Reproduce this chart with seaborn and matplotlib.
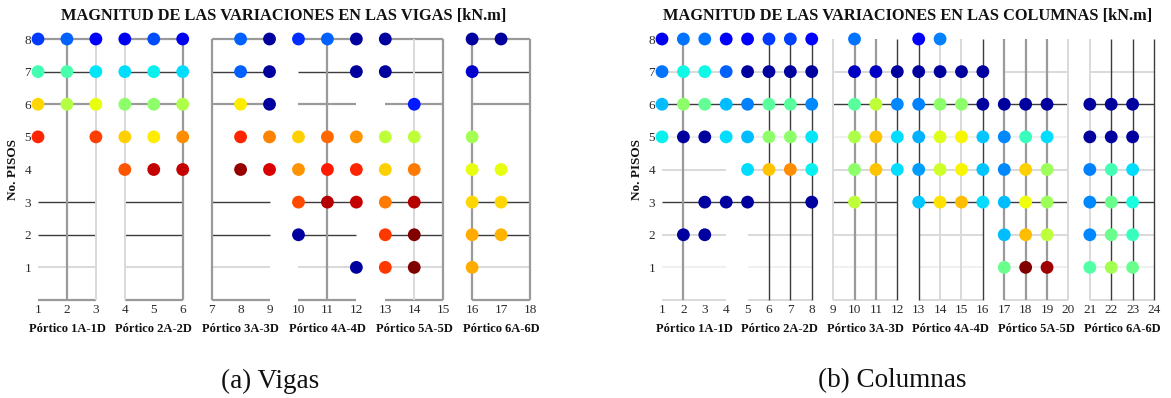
import numpy as np
import pandas as pd
import matplotlib
matplotlib.use("Agg")
import matplotlib.pyplot as plt
import seaborn as sns

# ---- Beam results (Vigas): column position, floor, relative magnitude (0-1) ----
vigas_x = [1, 1, 1, 1,
           2, 2, 2,
           3, 3, 3, 3,
           4, 4, 4, 4, 4,
           5, 5, 5, 5, 5,
           6, 6, 6, 6, 6,
           8, 8, 8, 8, 8,
           9, 9, 9, 9, 9,
           10, 10, 10, 10, 10,
           11, 11, 11, 11,
           12, 12, 12, 12, 12, 12,
           13, 13, 13, 13, 13, 13, 13,
           14, 14, 14, 14, 14, 14,
           16, 16, 16, 16, 16, 16, 16,
           17, 17, 17, 17]
vigas_piso = [8, 7, 6, 5,
              8, 7, 6,
              8, 7, 6, 5,
              8, 7, 6, 5, 4,
              8, 7, 6, 5, 4,
              8, 7, 6, 5, 4,
              8, 7, 6, 5, 4,
              8, 7, 6, 5, 4,
              8, 5, 4, 3, 2,
              8, 5, 4, 3,
              8, 7, 5, 4, 3, 1,
              8, 7, 5, 4, 3, 2, 1,
              6, 5, 4, 3, 2, 1,
              8, 7, 5, 4, 3, 2, 1,
              8, 4, 3, 2]
vigas_mag = [0.18, 0.43, 0.68, 0.87,
             0.22, 0.44, 0.57,
             0.12, 0.35, 0.63, 0.84,
             0.10, 0.34, 0.52, 0.69, 0.82,
             0.20, 0.36, 0.52, 0.66, 0.94,
             0.10, 0.34, 0.56, 0.76, 0.94,
             0.22, 0.22, 0.66, 0.87, 0.98,
             0.03, 0.03, 0.03, 0.77, 0.92,
             0.17, 0.69, 0.75, 0.83, 0.03,
             0.22, 0.80, 0.88, 0.95,
             0.03, 0.03, 0.75, 0.87, 0.94, 0.03,
             0.03, 0.03, 0.58, 0.69, 0.78, 0.85, 0.85,
             0.15, 0.58, 0.78, 0.95, 1.00, 1.00,
             0.03, 0.07, 0.55, 0.63, 0.68, 0.73, 0.73,
             0.03, 0.63, 0.68, 0.72]

# ---- Column results (Columnas) ----
columnas_x = [1, 1, 1, 1,
              2, 2, 2, 2, 2,
              3, 3, 3, 3, 3, 3,
              4, 4, 4, 4, 4,
              5, 5, 5, 5, 5, 5,
              6, 6, 6, 6, 6,
              7, 7, 7, 7, 7,
              8, 8, 8, 8, 8, 8,
              10, 10, 10, 10, 10, 10,
              11, 11, 11, 11,
              12, 12, 12, 12,
              13, 13, 13, 13, 13, 13,
              14, 14, 14, 14, 14, 14,
              15, 15, 15, 15, 15,
              16, 16, 16, 16, 16,
              17, 17, 17, 17, 17, 17,
              18, 18, 18, 18, 18, 18,
              19, 19, 19, 19, 19, 19,
              21, 21, 21, 21, 21, 21,
              22, 22, 22, 22, 22, 22,
              23, 23, 23, 23, 23, 23]
columnas_piso = [8, 7, 6, 5,
                 8, 7, 6, 5, 2,
                 8, 7, 6, 5, 3, 2,
                 8, 7, 6, 5, 3,
                 8, 7, 6, 5, 4, 3,
                 8, 7, 6, 5, 4,
                 8, 7, 6, 5, 4,
                 8, 7, 6, 5, 4, 3,
                 8, 7, 6, 5, 4, 3,
                 7, 6, 5, 4,
                 7, 6, 5, 4,
                 8, 7, 6, 5, 4, 3,
                 8, 7, 6, 5, 4, 3,
                 7, 6, 5, 4, 3,
                 7, 6, 5, 4, 3,
                 6, 5, 4, 3, 2, 1,
                 6, 5, 4, 3, 2, 1,
                 6, 5, 4, 3, 2, 1,
                 6, 5, 4, 3, 2, 1,
                 6, 5, 4, 3, 2, 1,
                 6, 5, 4, 3, 2, 1]
columnas_mag = [0.10, 0.24, 0.31, 0.36,
                0.24, 0.37, 0.52, 0.03, 0.03,
                0.24, 0.37, 0.47, 0.03, 0.03, 0.03,
                0.12, 0.22, 0.31, 0.34, 0.03,
                0.12, 0.03, 0.25, 0.31, 0.34, 0.03,
                0.18, 0.03, 0.46, 0.52, 0.70,
                0.19, 0.03, 0.46, 0.52, 0.76,
                0.12, 0.03, 0.26, 0.35, 0.36, 0.03,
                0.24, 0.06, 0.46, 0.56, 0.52, 0.58,
                0.06, 0.58, 0.70, 0.70,
                0.03, 0.26, 0.34, 0.34,
                0.12, 0.03, 0.25, 0.30, 0.28, 0.32,
                0.25, 0.03, 0.52, 0.62, 0.60, 0.67,
                0.03, 0.52, 0.65, 0.65, 0.71,
                0.03, 0.03, 0.32, 0.32, 0.34,
                0.03, 0.26, 0.26, 0.31, 0.31, 0.48,
                0.03, 0.42, 0.69, 0.64, 0.71, 1.00,
                0.03, 0.34, 0.54, 0.54, 0.58, 0.97,
                0.03, 0.03, 0.25, 0.26, 0.26, 0.45,
                0.03, 0.03, 0.43, 0.48, 0.48, 0.55,
                0.03, 0.03, 0.34, 0.38, 0.42, 0.48]

# ---- Axis labels ----
vigas_ticks = list(range(1, 19))
columnas_ticks = list(range(1, 25))
pisos = list(range(1, 9))
porticos = ["Pórtico 1A-1D", "Pórtico 2A-2D", "Pórtico 3A-3D",
            "Pórtico 4A-4D", "Pórtico 5A-5D", "Pórtico 6A-6D"]
titulo_vigas = "MAGNITUD DE LAS VARIACIONES EN LAS VIGAS [kN.m]"
titulo_columnas = "MAGNITUD DE LAS VARIACIONES EN LAS COLUMNAS [kN.m]"
subtitulos = ["(a) Vigas", "(b) Columnas"]

# ---- Frame outline drawn behind the markers ----
TONES = {"dark": ("#3c3c3c", 1.0), "mid": ("#9a9a9a", 1.6),
         "light": ("#d9d9d9", 1.4), "faint": ("#eeeeee", 1.2)}

vigas_groups = [(1, 3), (4, 6), (7, 9), (10, 12), (13, 15), (16, 18)]
vigas_beam_levels = [(8, "mid"), (7, "dark"), (6, "mid"), (3, "dark"),
                     (2, "dark"), (1, "light"), (0, "mid")]
vigas_posts = [(2, "mid"), (3, "light"), (4, "light"), (6, "mid"), (7, "mid"),
               (11, "mid"), (14, "light"), (15, "mid"), (16, "mid"), (18, "mid")]

columnas_groups = [(1, 4), (5, 8), (9, 12), (13, 16), (17, 20), (21, 24)]
columnas_beam_levels = [(7, "light"), (6, "dark"), (5, "faint"), (4, "light"),
                        (3, "dark"), (2, "light"), (1, "faint"), (0, "light")]
columnas_bridges = [(4, 5, 6, "dark"), (4, 5, 3, "dark")]
columnas_posts = [(2, "mid"), (6, "dark"), (7, "dark"), (8, "dark"), (9, "light"),
                  (10, "mid"), (11, "mid"), (12, "dark"), (13, "dark"),
                  (14, "light"), (15, "light"), (16, "dark"), (17, "mid"),
                  (18, "mid"), (19, "mid"), (20, "light"), (21, "light"),
                  (22, "dark"), (23, "dark"), (24, "dark")]

sns.set_theme(style="white")
plt.rcParams["font.family"] = ["Liberation Serif", "DejaVu Serif"]

fig = plt.figure(figsize=(11.71, 3.98), dpi=100)
ax_v = fig.add_axes([38 / 1171, 1 - 300 / 398, 492 / 1171, 261 / 398])
ax_c = fig.add_axes([662 / 1171, 1 - 300 / 398, 492 / 1171, 261 / 398])


def draw_frame(ax, groups, levels, posts, bridges=()):
    for x0, x1 in groups:
        for y, tone in levels:
            c, lw = TONES[tone]
            ax.plot([x0, x1], [y, y], color=c, lw=lw, zorder=1,
                    solid_capstyle="butt", clip_on=False)
    for x0, x1, y, tone in bridges:
        c, lw = TONES[tone]
        ax.plot([x0, x1], [y, y], color=c, lw=lw, zorder=1, clip_on=False)
    for x, tone in posts:
        c, lw = TONES[tone]
        ax.plot([x, x], [0, 8], color=c, lw=lw, zorder=2,
                solid_capstyle="butt", clip_on=False)


def finish(ax, ticks, groups, title, xmax):
    ax.set_xlim(1, xmax)
    ax.set_ylim(0, 8)
    ax.set_xticks(ticks)
    ax.set_xticklabels([str(t) for t in ticks])
    ax.set_yticks(pisos)
    ax.tick_params(axis="both", length=0, labelsize=9.5, colors="#2a2a2a")
    ax.tick_params(axis="x", pad=3)
    ax.tick_params(axis="y", pad=5)
    for s in ax.spines.values():
        s.set_visible(False)
    ax.grid(False)
    ax.set_xlabel("")
    ax.set_ylabel("No. PISOS", fontsize=9.5, fontweight="bold", labelpad=4,
                  color="#111111")
    for (x0, x1), name in zip(groups, porticos):
        ax.annotate(name, xy=((x0 + x1) / 2, 0), xycoords="data",
                    xytext=(0, -21), textcoords="offset points",
                    ha="center", va="center", fontsize=9, fontweight="bold",
                    color="#111111", annotation_clip=False)
    ax.set_title(title, fontsize=11.8, fontweight="bold", color="#111111", pad=14)


draw_frame(ax_v, vigas_groups, vigas_beam_levels, vigas_posts)
draw_frame(ax_c, columnas_groups, columnas_beam_levels, columnas_posts,
           columnas_bridges)

df_v = pd.DataFrame({"x": vigas_x, "piso": vigas_piso, "mag": vigas_mag})
df_c = pd.DataFrame({"x": columnas_x, "piso": columnas_piso, "mag": columnas_mag})

jet = matplotlib.colormaps["jet"]
for ax, df in ((ax_v, df_v), (ax_c, df_c)):
    sns.scatterplot(data=df, x="x", y="piso", hue="mag", palette=jet,
                    hue_norm=(0, 1), s=85, linewidth=0, legend=False,
                    ax=ax, zorder=3, clip_on=False)

finish(ax_v, vigas_ticks, vigas_groups, titulo_vigas, 18)
finish(ax_c, columnas_ticks, columnas_groups, titulo_columnas, 24)

fig.text(270 / 1171, 1 - 381 / 398, subtitulos[0], ha="center", va="center",
         fontsize=19.5, color="#111111")
fig.text(892 / 1171, 1 - 381 / 398, subtitulos[1], ha="center", va="center",
         fontsize=19.5, color="#111111")

fig.savefig("out.png", dpi=100, facecolor="white")
